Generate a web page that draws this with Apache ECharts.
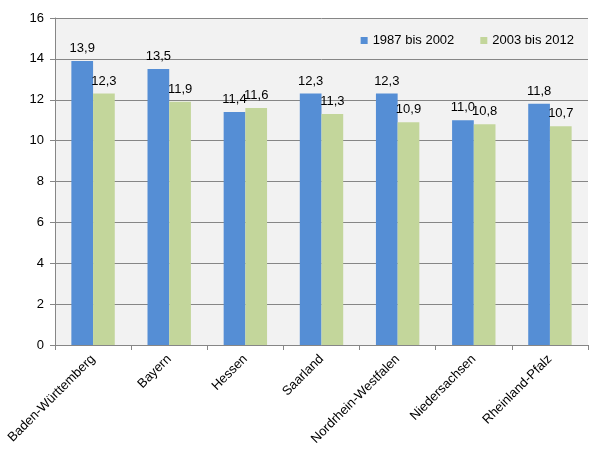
<!DOCTYPE html>
<html><head><meta charset="utf-8">
<script src="https://cdn.jsdelivr.net/npm/echarts@6/dist/echarts.min.js"></script>
<style>html,body{margin:0;padding:0;background:#fff}#c{width:600px;height:460px}</style>
</head><body><div id="c"></div>
<script>
var categories = ['Baden-Württemberg','Bayern','Hessen','Saarland','Nordrhein-Westfalen','Niedersachsen','Rheinland-Pfalz'];
var series1 = [13.9, 13.5, 11.4, 12.3, 12.3, 11.0, 11.8];
var series2 = [12.3, 11.9, 11.6, 11.3, 10.9, 10.8, 10.7];
var seriesNames = ['1987 bis 2002', '2003 bis 2012'];
var yTicks = [0, 2, 4, 6, 8, 10, 12, 14, 16];

var font = 'Liberation Sans, Arial, sans-serif';
function fmt(p){ return p.value.toFixed(1).replace('.', ','); }
var chart = echarts.init(document.getElementById('c'));
chart.setOption({
  animation: false,
  textStyle: {fontFamily: font},
  grid: {left: 55, right: 12, top: 18, bottom: 115, backgroundColor: '#F2F2F2', show: true, borderWidth: 0},
  legend: {
    top: 29, right: 21, itemWidth: 7, itemHeight: 7, itemGap: 26, icon: 'rect',
    textStyle: {fontSize: 13, color: '#000', fontFamily: font}, data: seriesNames
  },
  xAxis: {
    type: 'category', data: categories,
    axisLine: {lineStyle: {color: '#868686'}},
    axisTick: {show: true, length: 5, lineStyle: {color: '#868686'}},
    axisLabel: {rotate: 45, fontSize: 13, color: '#000', fontFamily: font, margin: 12}
  },
  yAxis: {
    type: 'value', min: yTicks[0], max: yTicks[yTicks.length-1], interval: 2,
    axisLine: {show: true, lineStyle: {color: '#868686'}},
    axisTick: {show: true, length: 5, lineStyle: {color: '#868686'}},
    splitLine: {lineStyle: {color: '#868686'}},
    axisLabel: {fontSize: 13, color: '#000', fontFamily: font, margin: 11}
  },
  series: [
    {name: seriesNames[0], type: 'bar', data: series1, barGap: '0%', barCategoryGap: '43%',
     itemStyle: {color: '#558ED5'},
     label: {show: true, position: 'top', formatter: fmt, fontSize: 13, color: '#000', fontFamily: font, distance: 6}},
    {name: seriesNames[1], type: 'bar', data: series2, barGap: '0%', barCategoryGap: '43%',
     itemStyle: {color: '#C3D69B'},
     label: {show: true, position: 'top', formatter: fmt, fontSize: 13, color: '#000', fontFamily: font, distance: 6}}
  ]
});
</script></body></html>
